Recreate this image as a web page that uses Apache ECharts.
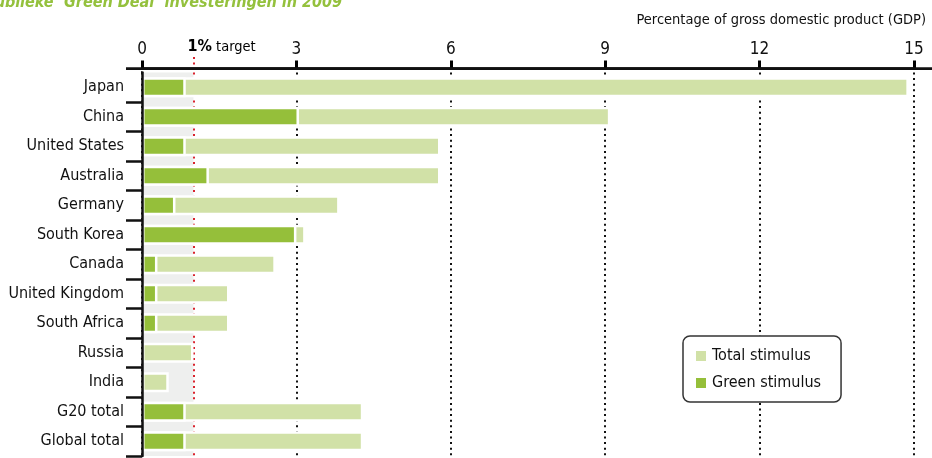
<!DOCTYPE html>
<html lang="en">
  <head>
    <meta charset="UTF-8" />
    <title>Green stimulus</title>
    <script src="https://cdn.jsdelivr.net/npm/echarts@6/dist/echarts.min.js"></script>
    <style>
      html, body { margin: 0; padding: 0; background: #fff; }
      #main { width: 932px; height: 458px; }
    </style>
  </head>
  <body>
    <div id="main"></div>
    <script>
      var countries = [
        "Japan", "China", "United States", "Australia", "Germany", "South Korea",
        "Canada", "United Kingdom", "South Africa", "Russia", "India", "G20 total", "Global total"
      ];
      var totalStimulus = [14.9, 9.1, 5.8, 5.8, 3.84, 3.18, 2.6, 1.7, 1.7, 1.0, 0.52, 4.3, 4.3];
      var greenStimulus = [0.85, 3.05, 0.85, 1.3, 0.65, 3.0, 0.3, 0.3, 0.3, "-", "-", 0.85, 0.85];
      var targetValue = 1;

      var font = "'DejaVu Sans Condensed', 'Liberation Sans Narrow', sans-serif";
      var dark = "#95bf3a";
      var light = "#d1e1a7";
      var red = "#d9232e";

      var chartDom = document.getElementById("main");
      var myChart = echarts.init(chartDom);
      var option;
      option = {
        animation: false,
        textStyle: { fontFamily: font },
        grid: { left: 142, right: 18, top: 72.5, bottom: 2, outerBoundsMode: "none", containLabel: false },
        legend: {
          orient: "vertical",
          left: 683,
          top: 336,
          z: 12,
          padding: [10, 20, 9, 11],
          itemGap: 7,
          itemWidth: 12,
          itemHeight: 12,
          icon: "rect",
          backgroundColor: "#fff",
          borderColor: "#333",
          borderWidth: 1.5,
          borderRadius: 7,
          textStyle: { fontFamily: font, fontSize: 16, lineHeight: 20, color: "#111" },
          data: ["Total stimulus", "Green stimulus"],
        },
        xAxis: {
          type: "value",
          position: "top",
          offset: 4,
          min: 0,
          max: 15,
          interval: 3,
          z: 6,
          axisLine: { show: true, lineStyle: { color: "#111", width: 2.7 } },
          axisTick: { show: true, inside: false, length: 8, lineStyle: { color: "#000", width: 3 } },
          axisLabel: { fontFamily: font, fontSize: 17, color: "#111", margin: 10 },
          splitLine: {
            show: true,
            lineStyle: { color: "#111", width: 2, type: [2, 3.6] },
          },
        },
        yAxis: {
          type: "category",
          inverse: true,
          z: 11,
          data: countries,
          axisLine: { show: true, lineStyle: { color: "#111", width: 2.5 } },
          axisTick: {
            show: true,
            inside: false,
            length: 16,
            lineStyle: { color: "#111", width: 2.5 },
          },
          axisLabel: { fontFamily: font, fontSize: 16, color: "#111", margin: 18 },
        },
        graphic: [
          {
            type: "text",
            style: {
              x: 342, y: 3,
              text: "Figuur 5.1: Publieke \u2018Green Deal\u2019 investeringen in 2009",
              textAlign: "right",
              textVerticalAlign: "middle",
              fill: "#94c13d",
              font: "italic bold 16px " + font,
            },
          },
          {
            type: "text",
            style: {
              x: 926, y: 20,
              text: "Percentage of gross domestic product (GDP)",
              textAlign: "right",
              textVerticalAlign: "middle",
              fill: "#111",
              font: "14.5px " + font,
            },
          },
          {
            type: "text",
            style: {
              x: 187.5, y: 47,
              text: "{a|1%}{b| target}",
              textVerticalAlign: "middle",
              rich: {
                a: { fontFamily: font, fontSize: 16, fontWeight: "bold", color: red },
                b: { fontFamily: font, fontSize: 14.5, color: red },
              },
            },
          },
          {
            type: "line",
            shape: { x1: 194, y1: 57, x2: 194, y2: 67 },
            style: { stroke: red, lineWidth: 2, lineDash: [2, 3.6] },
          },
          {
            type: "rect",
            shape: { x: 126, y: 67.3, width: 806, height: 2.7 },
            style: { fill: "#111" },
            z: 13,
          },
          {
            type: "rect",
            shape: { x: 120, y: 70, width: 21, height: 4.5 },
            style: { fill: "#fff" },
            z: 13,
          },
        ],
        series: [
          {
            name: "Total stimulus",
            type: "bar",
            z: 8,
            barWidth: 20,
            itemStyle: { color: light, borderColor: "#fff", borderWidth: 2.5 },
            data: totalStimulus,
            markArea: {
              silent: true,
              z: 1,
              itemStyle: { color: "#eeefee" },
              data: [[{ xAxis: 0 }, { xAxis: targetValue }]],
            },
            markLine: {
              silent: true,
              z: 7,
              symbol: "none",
              label: { show: false },
              lineStyle: { color: red, width: 2, type: [2, 3.6] },
              data: [{ xAxis: targetValue }],
            },
          },
          {
            name: "Green stimulus",
            type: "bar",
            z: 9,
            barWidth: 20,
            barGap: "-100%",
            itemStyle: { color: dark, borderColor: "#fff", borderWidth: 2.5 },
            data: greenStimulus,
          },
        ],
      };
      option && myChart.setOption(option);
    </script>
  </body>
</html>
